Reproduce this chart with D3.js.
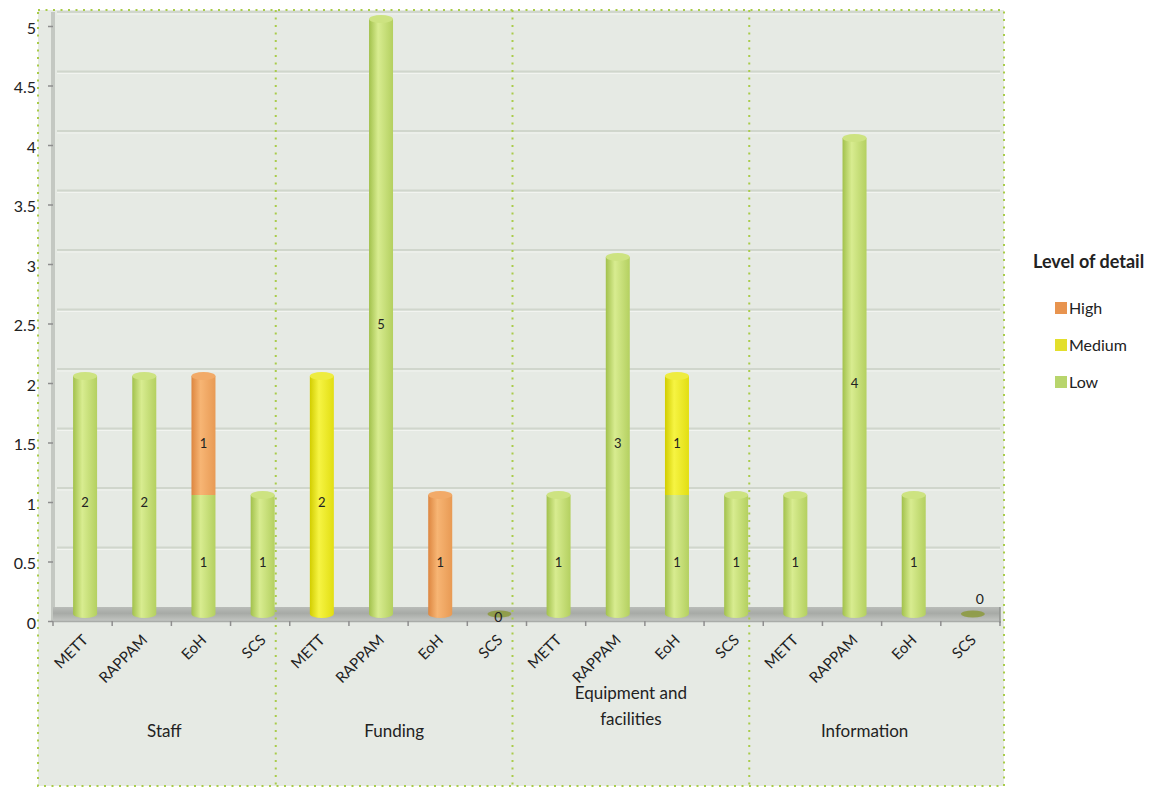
<!DOCTYPE html>
<html>
<head>
<meta charset="utf-8">
<script src="https://cdn.jsdelivr.net/npm/d3@7"></script>
<style>
  html, body { margin: 0; padding: 0; background: #ffffff; }
  svg { display: block; font-family: Lato, "Open Sans", sans-serif; }
</style>
</head>
<body>
<svg id="chart" width="1158" height="787"></svg>
<script>
// Topics (outer axis level) and assessment tools (inner axis level)
const groups = ["Staff", "Funding", "Equipment and facilities", "Information"];
const tools = ["METT", "RAPPAM", "EoH", "SCS"];

// Number of indicators per level of detail, one entry per topic × tool
const lowValues    = [2, 2, 1, 1,   0, 5, 0, 0,   1, 3, 1, 1,   1, 4, 1, 0];
const mediumValues = [0, 0, 0, 0,   2, 0, 0, 0,   0, 0, 1, 0,   0, 0, 0, 0];
const highValues   = [0, 0, 1, 0,   0, 0, 1, 0,   0, 0, 0, 0,   0, 0, 0, 0];

const seriesNames = ["Low", "Medium", "High"];
const legendOrder = ["High", "Medium", "Low"];
const yTicks = [0, 0.5, 1, 1.5, 2, 2.5, 3, 3.5, 4, 4.5, 5];

const palette = {
  Low:    { dark: "#a2c14c", light: "#d8ec90", edge: "#b4d060", cap: "#cde381", key: "#b8d56c" },
  Medium: { dark: "#d2cd00", light: "#f6f443", edge: "#e2de12", cap: "#eeec40", key: "#e3df2c" },
  High:   { dark: "#dd8640", light: "#f7b574", edge: "#e89a54", cap: "#f2aa68", key: "#e8944f" }
};

const rows = [];
groups.forEach((g, gi) => tools.forEach((t, ti) => {
  const i = gi * tools.length + ti;
  rows.push({ key: g + "|" + t, group: g, gi, tool: t,
              Low: lowValues[i], Medium: mediumValues[i], High: highValues[i] });
}));

const svg = d3.select("#chart");
const frame = { left: 38, top: 10, right: 1004, bottom: 786 };
const plot = { left: 53, right: 1000, top: 26, bottom: 621 };
const wallDy = -14;   // depth offset of the back wall
const barDy = -7;     // depth offset of the cylinders

const x = d3.scaleBand().domain(rows.map(d => d.key)).range([plot.left, plot.right]).padding(0);
const y = d3.scaleLinear().domain([0, 5]).range([plot.bottom, plot.top]);
const barW = 24, rx = barW / 2, ry = 4;
const cx = d => x(d.key) + x.bandwidth() / 2 + 2.5;

// gradients for the cylinders and the floor
const defs = svg.append("defs");
seriesNames.forEach(s => {
  const g = defs.append("linearGradient").attr("id", "cyl-" + s)
    .attr("x1", "0%").attr("x2", "100%").attr("y1", "0%").attr("y2", "0%");
  g.append("stop").attr("offset", "0%").attr("stop-color", palette[s].dark);
  g.append("stop").attr("offset", "38%").attr("stop-color", palette[s].light);
  g.append("stop").attr("offset", "100%").attr("stop-color", palette[s].edge);
});
const fg = defs.append("linearGradient").attr("id", "floor")
  .attr("x1", "0%").attr("x2", "0%").attr("y1", "0%").attr("y2", "100%");
fg.append("stop").attr("offset", "0%").attr("stop-color", "#b9bcb8");
fg.append("stop").attr("offset", "45%").attr("stop-color", "#a7aaa6");
fg.append("stop").attr("offset", "100%").attr("stop-color", "#c3c5c2");

// chart area background and dotted outline
svg.append("rect")
  .attr("x", frame.left).attr("y", frame.top)
  .attr("width", frame.right - frame.left).attr("height", frame.bottom - frame.top)
  .attr("fill", "#e6eae4");

// back wall gridlines
const grid = svg.append("g");
yTicks.filter(v => v > 0).forEach(v => {
  grid.append("line")
    .attr("x1", plot.left + 4).attr("x2", plot.right)
    .attr("y1", y(v) + wallDy).attr("y2", y(v) + wallDy)
    .attr("stroke", "#d0d6cc").attr("stroke-width", 2);
  grid.append("line")
    .attr("x1", plot.left + 4).attr("x2", plot.right)
    .attr("y1", y(v) + wallDy + 2).attr("y2", y(v) + wallDy + 2)
    .attr("stroke", "#f2f4f0").attr("stroke-width", 1);
});

// side wall
svg.append("rect")
  .attr("x", plot.left - 2).attr("y", y(5) + wallDy)
  .attr("width", 4).attr("height", plot.bottom - (y(5) + wallDy))
  .attr("fill", "#c4c8c2");

// floor slab
svg.append("rect")
  .attr("x", plot.left).attr("y", plot.bottom + wallDy)
  .attr("width", plot.right - plot.left).attr("height", -wallDy)
  .attr("fill", "url(#floor)");
svg.append("line")
  .attr("x1", plot.right).attr("x2", plot.right)
  .attr("y1", plot.bottom + wallDy).attr("y2", plot.bottom + 2)
  .attr("stroke", "#8f928e").attr("stroke-width", 1.5);

// y axis
const yAxis = svg.append("g").attr("transform", `translate(${plot.left},0)`)
  .call(d3.axisLeft(y).tickValues(yTicks).tickSize(5).tickFormat(d3.format("")));
yAxis.select(".domain").remove();
yAxis.selectAll(".tick line").attr("stroke", "#8e8e8e").attr("stroke-width", 1.5);
yAxis.selectAll(".tick text")
  .attr("x", -17).attr("dy", "0.45em")
  .attr("font-size", 16).attr("fill", "#222")
  .attr("font-family", "Lato, 'Open Sans', sans-serif");

// x axis: tool names under each band
const xAxis = svg.append("g").attr("transform", `translate(0,${plot.bottom})`)
  .call(d3.axisBottom(x).tickSize(0).tickFormat(""));
xAxis.select(".domain").attr("stroke", "#a9aca8").attr("stroke-width", 1.5);
svg.append("g").selectAll("line")
  .data(rows.map(d => x(d.key)).concat([plot.right]))
  .join("line")
  .attr("x1", d => d).attr("x2", d => d)
  .attr("y1", plot.bottom).attr("y2", plot.bottom + 5)
  .attr("stroke", "#8e8e8e").attr("stroke-width", 1.5);

svg.append("g").selectAll("text")
  .data(rows)
  .join("text")
  .attr("transform", d => `translate(${cx(d) + 4},${plot.bottom + 20}) rotate(-45)`)
  .attr("text-anchor", "end")
  .attr("font-size", 15).attr("fill", "#222")
  .text(d => d.tool);

// group dividers and topic labels
const groupStart = gi => x(groups[gi] + "|" + tools[0]);
const dividers = groups.slice(1).map((g, i) => groupStart(i + 1) - 14);
const cellEdges = [plot.left].concat(dividers).concat([plot.right - 20]);

svg.append("g").selectAll("line")
  .data(dividers)
  .join("line")
  .attr("x1", d => d).attr("x2", d => d)
  .attr("y1", frame.top).attr("y2", frame.bottom)
  .attr("stroke", "#a9cc4a").attr("stroke-width", 2)
  .attr("stroke-dasharray", "2,5.5");

const groupLabels = svg.append("g").selectAll("text")
  .data(groups)
  .join("text")
  .attr("x", (d, i) => (cellEdges[i] + cellEdges[i + 1]) / 2)
  .attr("text-anchor", "middle")
  .attr("font-size", 17).attr("fill", "#222");
groupLabels.each(function (d) {
  const words = d === "Equipment and facilities" ? ["Equipment and", "facilities"] : [d];
  const t = d3.select(this);
  const base = words.length === 1 ? 737 : 699;
  words.forEach((w, k) => t.append("tspan")
    .attr("x", t.attr("x")).attr("y", base + k * 26).text(w));
});

// stacked cylinders
const stack = d3.stack().keys(seriesNames)(rows);
const barLayer = svg.append("g");
const labelLayer = svg.append("g");

rows.forEach((row, ri) => {
  const segs = stack.map(s => ({ name: s.key, y0: s[ri][0], y1: s[ri][1] }))
    .filter(s => s.y1 > s.y0);
  const c = cx(row);
  const total = segs.length ? segs[segs.length - 1].y1 : 0;

  if (!segs.length) {
    // empty stack: flat disc resting on the floor
    barLayer.append("ellipse")
      .attr("cx", c).attr("cy", y(0) + barDy)
      .attr("rx", rx).attr("ry", 3.5)
      .attr("fill", "#8c9a3c").attr("opacity", 0.85);
    const above = row.gi === groups.length - 1;
    labelLayer.append("text")
      .attr("x", above ? c + 7 : c - 1)
      .attr("y", above ? y(0) + barDy - 10 : y(0) + 1)
      .attr("text-anchor", "middle").attr("font-size", 14).attr("fill", "#222")
      .text(total);
    return;
  }

  segs.forEach((s, k) => {
    const yTop = y(s.y1) + barDy;
    const yBot = y(s.y0) + barDy;
    const left = c - rx, right = c + rx;
    let path;
    if (k === 0) {
      path = `M${left},${yTop} L${left},${yBot} A${rx},${ry} 0 0 0 ${right},${yBot} L${right},${yTop} Z`;
    } else {
      path = `M${left},${yTop} L${left},${yBot} L${right},${yBot} L${right},${yTop} Z`;
    }
    barLayer.append("path").attr("d", path).attr("fill", `url(#cyl-${s.name})`);
    if (k === segs.length - 1) {
      barLayer.append("ellipse")
        .attr("cx", c).attr("cy", yTop).attr("rx", rx).attr("ry", ry)
        .attr("fill", palette[s.name].cap);
    }
    labelLayer.append("text")
      .attr("x", c).attr("y", y((s.y0 + s.y1) / 2) + 5)
      .attr("text-anchor", "middle").attr("font-size", 13).attr("fill", "#222")
      .text(s.y1 - s.y0);
  });
});

// dotted outline drawn on top
svg.append("rect")
  .attr("x", frame.left).attr("y", frame.top)
  .attr("width", frame.right - frame.left).attr("height", frame.bottom - frame.top)
  .attr("fill", "none")
  .attr("stroke", "#a9cc4a").attr("stroke-width", 2)
  .attr("stroke-dasharray", "2,5.5");

// legend
const legend = svg.append("g");
legend.append("text")
  .attr("x", 1033).attr("y", 268)
  .attr("font-size", 18).attr("font-weight", "bold").attr("fill", "#222")
  .text("Level of detail");
legendOrder.forEach((s, i) => {
  const cy = 308 + i * 37;
  legend.append("rect")
    .attr("x", 1055).attr("y", cy - 6).attr("width", 12).attr("height", 12)
    .attr("fill", palette[s].key);
  legend.append("text")
    .attr("x", 1069).attr("y", cy + 6)
    .attr("font-size", 16).attr("fill", "#222")
    .text(s);
});
</script>
</body>
</html>
